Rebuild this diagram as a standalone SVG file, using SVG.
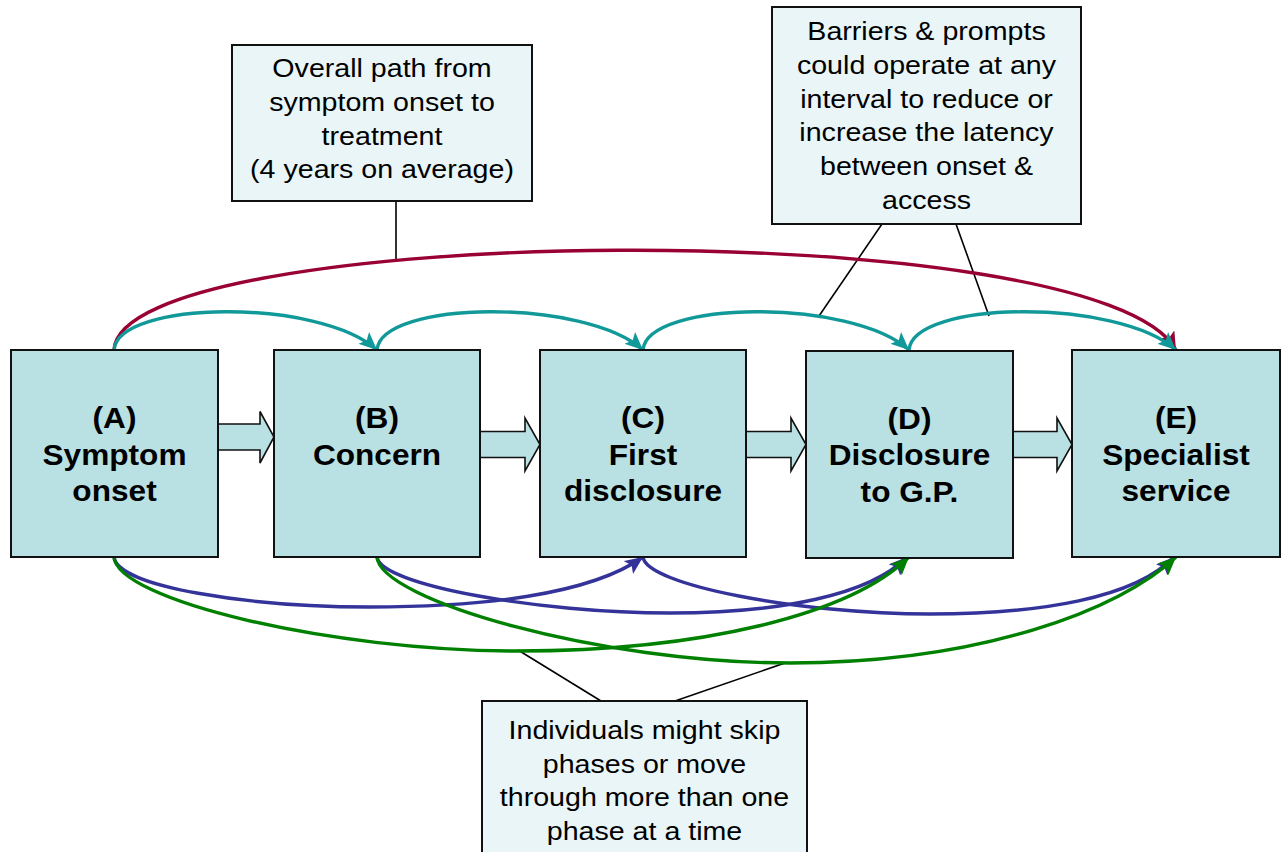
<svg xmlns="http://www.w3.org/2000/svg" width="1288" height="852" viewBox="0 0 1288 852">
<style>
.box{fill:#B9E0E3;stroke:#111;stroke-width:2}
.note{fill:#E9F5F7;stroke:#111;stroke-width:2}
.blk{fill:#B9E0E3;stroke:#111;stroke-width:1.6}
.t{font-family:"Liberation Sans",Arial,sans-serif;font-weight:bold;font-size:29px;text-anchor:middle;fill:#000}
.n{font-family:"Liberation Sans",Arial,sans-serif;font-size:26px;text-anchor:middle;fill:#000}
.arc{fill:none;stroke-width:3.4}
.teal{stroke:#119999}
.red{stroke:#990033}
.blue{stroke:#333399}
.green{stroke:#008000}
.lead{fill:none;stroke:#000;stroke-width:1.6}
</style>
<defs>
<marker id="mTeal" markerUnits="userSpaceOnUse" markerWidth="19" markerHeight="16" refX="18" refY="8" orient="auto"><path d="M0,0 L18,8 L0,16 L4,8 z" fill="#119999"/></marker>
<marker id="mRed" markerUnits="userSpaceOnUse" markerWidth="19" markerHeight="16" refX="18" refY="8" orient="auto"><path d="M0,0 L18,8 L0,16 L4,8 z" fill="#990033"/></marker>
<marker id="mBlue" markerUnits="userSpaceOnUse" markerWidth="19" markerHeight="16" refX="18" refY="8" orient="auto"><path d="M0,0 L18,8 L0,16 L4,8 z" fill="#333399"/></marker>
<marker id="mGreen" markerUnits="userSpaceOnUse" markerWidth="19" markerHeight="16" refX="18" refY="8" orient="auto"><path d="M0,0 L18,8 L0,16 L4,8 z" fill="#008000"/></marker>
</defs>
<rect width="1288" height="852" fill="#fff"/>

<g id="connectors">
  <line class="lead" x1="396" y1="201" x2="396" y2="261"/>
  <line class="lead" x1="882" y1="224" x2="819" y2="316"/>
  <line class="lead" x1="956" y1="224" x2="989" y2="316"/>
  <line class="lead" x1="601" y1="701" x2="518" y2="650"/>
  <line class="lead" x1="675" y1="701" x2="785" y2="663"/>
  <path class="arc red" d="M114,350 C120,222 1100,212 1176,350" marker-end="url(#mRed)"/>
  <path class="arc teal" d="M114,350 C118,300 320,298 377,350" marker-end="url(#mTeal)"/>
  <path class="arc teal" d="M377,350 C381,300 586,298 643,350" marker-end="url(#mTeal)"/>
  <path class="arc teal" d="M643,350 C647,300 852,298 909,350" marker-end="url(#mTeal)"/>
  <path class="arc teal" d="M909,350 C913,300 1119,298 1176,350" marker-end="url(#mTeal)"/>
  <path class="arc blue" d="M114,557 C117,587 250,607 370,607 C480,607 590,595 643,557" marker-end="url(#mBlue)"/>
  <path class="arc blue" d="M377,557 C380,585 540,613 670,613 C780,613 870,595 907,557" marker-end="url(#mBlue)"/>
  <path class="arc blue" d="M643,557 C646,585 800,614 930,614 C1040,614 1135,598 1174,557" marker-end="url(#mBlue)"/>
  <path class="arc green" d="M114,557 C117,600 330,651 517,651 C700,651 850,615 909,557" marker-end="url(#mGreen)"/>
  <path class="arc green" d="M377,557 C380,600 600,663 790,663 C980,663 1120,610 1176,557" marker-end="url(#mGreen)"/>
  <polygon class="blk" points="218,424 260,424 260,411.5 274,437 260,463 260,450 218,450"/>
  <polygon class="blk" points="480,431.5 525,431.5 525,418 540,444.5 525,471 525,457.5 480,457.5"/>
  <polygon class="blk" points="746,431.5 791,431.5 791,418 806,444.5 791,471 791,457.5 746,457.5"/>
  <polygon class="blk" points="1013,431.5 1057,431.5 1057,418 1072,444.5 1057,471 1057,457.5 1013,457.5"/>
</g>

<g id="node-A">
  <rect class="box" x="11" y="350" width="207" height="207"/>
  <g transform="translate(114.5 0) scale(1.09 1)"><text class="t"><tspan x="0" y="428.5">(A)</tspan><tspan x="0" y="465">Symptom</tspan><tspan x="0" y="501.5">onset</tspan></text></g>
</g>
<g id="node-B">
  <rect class="box" x="274" y="350" width="206" height="207"/>
  <g transform="translate(377 0) scale(1.09 1)"><text class="t"><tspan x="0" y="428.5">(B)</tspan><tspan x="0" y="465">Concern</tspan></text></g>
</g>
<g id="node-C">
  <rect class="box" x="540" y="350" width="206" height="207"/>
  <g transform="translate(643 0) scale(1.09 1)"><text class="t"><tspan x="0" y="428.5">(C)</tspan><tspan x="0" y="465">First</tspan><tspan x="0" y="501.5">disclosure</tspan></text></g>
</g>
<g id="node-D">
  <rect class="box" x="806" y="351" width="207" height="207"/>
  <g transform="translate(909.5 0) scale(1.09 1)"><text class="t"><tspan x="0" y="429">(D)</tspan><tspan x="0" y="465.5">Disclosure</tspan><tspan x="0" y="502">to G.P.</tspan></text></g>
</g>
<g id="node-E">
  <rect class="box" x="1072" y="350" width="208" height="207"/>
  <g transform="translate(1176 0) scale(1.09 1)"><text class="t"><tspan x="0" y="428.5">(E)</tspan><tspan x="0" y="465">Specialist</tspan><tspan x="0" y="501.5">service</tspan></text></g>
</g>

<g id="note-overall">
  <rect class="note" x="232" y="45" width="300" height="156"/>
  <g transform="translate(382 0) scale(1.1 1)"><text class="n"><tspan x="0" y="77">Overall path from</tspan><tspan x="0" y="111">symptom onset to</tspan><tspan x="0" y="145">treatment</tspan><tspan x="0" y="178.5">(4 years on average)</tspan></text></g>
</g>
<g id="note-barriers">
  <rect class="note" x="772" y="7" width="309" height="217"/>
  <g transform="translate(926.5 0) scale(1.1 1)"><text class="n"><tspan x="0" y="40.5">Barriers &amp; prompts</tspan><tspan x="0" y="74">could operate at any</tspan><tspan x="0" y="108">interval to reduce or</tspan><tspan x="0" y="141.5">increase the latency</tspan><tspan x="0" y="175">between onset &amp;</tspan><tspan x="0" y="209">access</tspan></text></g>
</g>
<g id="note-skip">
  <rect class="note" x="482" y="701" width="325" height="160"/>
  <g transform="translate(644.5 0) scale(1.1 1)"><text class="n"><tspan x="0" y="739.5">Individuals might skip</tspan><tspan x="0" y="773">phases or move</tspan><tspan x="0" y="806.5">through more than one</tspan><tspan x="0" y="840">phase at a time</tspan></text></g>
</g>
</svg>
